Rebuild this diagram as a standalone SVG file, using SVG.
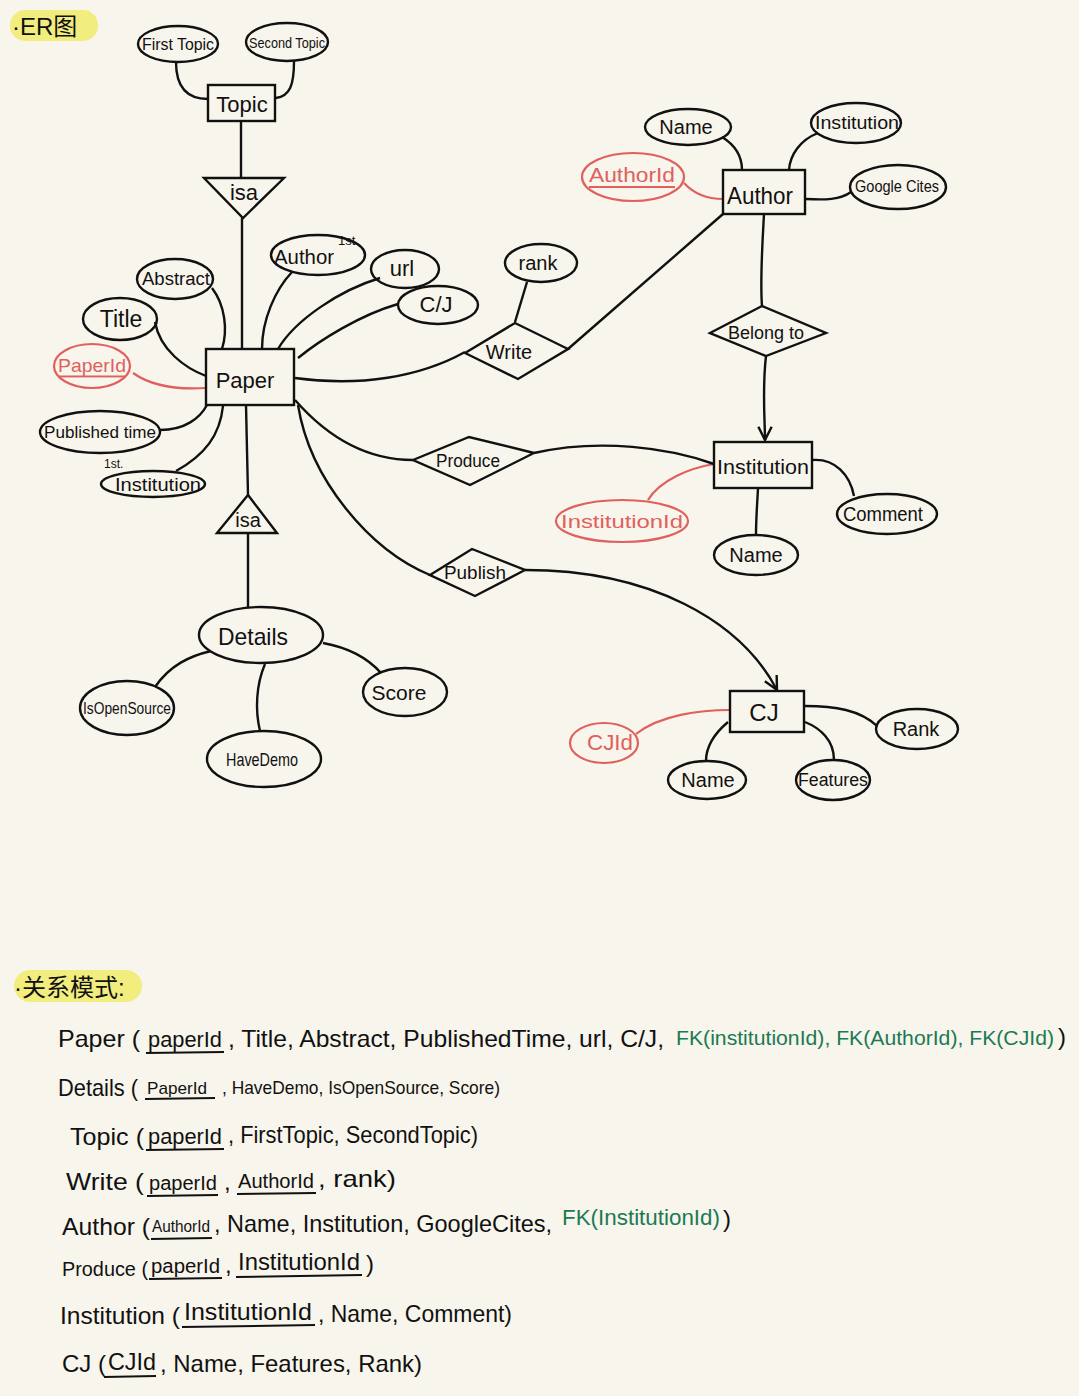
<svg xmlns="http://www.w3.org/2000/svg" width="1079" height="1396" viewBox="0 0 1079 1396">
<style>
text{font-family:"Liberation Sans","Noto Sans CJK SC",sans-serif;fill:#111;}
.lbl{text-anchor:middle;dominant-baseline:central;}
.shape{fill:none;stroke:#111;stroke-width:2.4;}
.key{fill:none;stroke:#e0605e;stroke-width:2.2;}
.keyt{fill:#e0605e;text-decoration:underline;}
.conn path{fill:none;stroke:#111;stroke-width:2.4;}
.conn path.red{stroke:#e0605e;stroke-width:2.2;}
.hl{fill:#f1ed7e;}
.g{fill:#1b7a55;}
.ul{stroke:#111;stroke-width:2;}
.row{font-size:24px;}
</style>
<defs>
<marker id="arr" viewBox="0 0 12 12" refX="11" refY="6" markerWidth="16" markerHeight="16" markerUnits="userSpaceOnUse" orient="auto">
<path d="M1,1 L11,6 L1,11" fill="none" stroke="#111" stroke-width="1.8"/>
</marker>
</defs>
<rect width="1079" height="1396" fill="#f8f5ec"/>

<!-- titles -->
<rect class="hl" x="10" y="10" width="88" height="31" rx="15"/>
<text x="12" y="35" font-size="24">·ER图</text>
<rect class="hl" x="14" y="970" width="128" height="32" rx="16"/>
<text x="14" y="996" font-size="24">·关系模式:</text>

<!-- connectors -->
<g id="connectors" class="conn">
<path d="M176,62 C176,90 190,99 208,99"/>
<path d="M294,61 C294,85 290,96 276,98"/>
<path d="M241,121 L241,178"/>
<path d="M242,218 L242,349"/>
<path d="M212,288 C225,305 228,330 222,349"/>
<path d="M155,322 C160,350 185,368 206,376"/>
<path class="red" d="M133,373 C150,385 175,390 206,388"/>
<path d="M160,430 C185,430 200,418 207,405"/>
<path d="M176,471 C205,455 220,435 223,406"/>
<path d="M292,272 C275,290 262,320 262,349"/>
<path d="M380,278 C340,290 295,320 278,349"/>
<path d="M398,304 C360,315 320,340 298,358"/>
<path d="M295,378 C360,387 420,377 465,352"/>
<path d="M527,282 L515,322"/>
<path d="M568,349 L723,214"/>
<path d="M722,137 C735,145 742,155 742,170"/>
<path d="M818,133 C800,140 790,155 789,170"/>
<path class="red" d="M684,183 C695,195 708,199 723,199"/>
<path d="M851,192 C840,200 825,200 806,199"/>
<path d="M764,214 C762,250 760,280 762,306"/>
<path d="M766,356 C762,390 765,420 765,440" marker-end="url(#arr)"/>
<path class="red" d="M648,500 C660,480 690,468 714,464"/>
<path d="M758,489 C757,505 756,520 756,535"/>
<path d="M812,460 C835,458 850,475 854,496"/>
<path d="M295,400 C330,440 370,460 413,460"/>
<path d="M534,453 C600,438 670,448 714,464"/>
<path d="M298,405 C310,480 370,550 430,575"/>
<path d="M525,570 C650,570 740,620 777,690" marker-end="url(#arr)"/>
<path class="red" d="M636,734 C660,715 700,710 730,710"/>
<path d="M706,761 C706,745 715,733 728,722"/>
<path d="M834,760 C834,740 820,728 805,722"/>
<path d="M877,726 C860,710 835,706 805,706"/>
<path d="M246,405 L248,495"/>
<path d="M248,533 L248,607"/>
<path d="M155,687 C170,665 190,656 211,651"/>
<path d="M260,731 C255,710 256,685 265,664"/>
<path d="M381,673 C365,655 345,647 323,643"/>
</g>

<!-- Topic -->
<g id="topic"><rect class="shape" x="208" y="85" width="67" height="36"/><text class="lbl" x="242" y="104" font-size="22">Topic</text></g>
<g id="first-topic"><ellipse class="shape" cx="178" cy="44" rx="40" ry="18"/><text class="lbl" x="178" y="44" font-size="16" textLength="72" lengthAdjust="spacingAndGlyphs">First Topic</text></g>
<g id="second-topic"><ellipse class="shape" cx="287" cy="42" rx="41" ry="19"/><text class="lbl" x="287" y="42" font-size="15" textLength="76" lengthAdjust="spacingAndGlyphs">Second Topic</text></g>
<g id="isa-topic"><polygon class="shape" points="204,178 284,178 243,218"/><text class="lbl" x="244" y="192" font-size="22">isa</text></g>

<!-- Paper -->
<g id="paper"><rect class="shape" x="206" y="349" width="88" height="56"/><text class="lbl" x="245" y="380" font-size="22">Paper</text></g>
<g id="abstract"><ellipse class="shape" cx="175" cy="279" rx="38" ry="20"/><text class="lbl" x="176" y="279" font-size="18" textLength="68" lengthAdjust="spacingAndGlyphs">Abstract</text></g>
<g id="title"><ellipse class="shape" cx="120" cy="319" rx="37" ry="21"/><text class="lbl" x="121" y="319" font-size="23">Title</text></g>
<g id="paper-id"><ellipse class="key" cx="92" cy="366" rx="38" ry="22"/><text class="lbl keyt" x="92" y="365" font-size="19" textLength="68" lengthAdjust="spacingAndGlyphs">PaperId</text></g>
<g id="published-time"><ellipse class="shape" cx="100" cy="432" rx="60" ry="21"/><text class="lbl" x="100" y="432" font-size="17" textLength="112" lengthAdjust="spacingAndGlyphs">Published time</text></g>
<g id="first-institution"><ellipse class="shape" cx="153" cy="484" rx="52" ry="13"/><text x="104" y="468" font-size="12">1st.</text><text class="lbl" x="158" y="485" font-size="18" textLength="86" lengthAdjust="spacingAndGlyphs">Institution</text></g>
<g id="first-author"><ellipse class="shape" cx="318" cy="255" rx="47" ry="20"/><text x="274" y="264" font-size="20" textLength="60" lengthAdjust="spacingAndGlyphs">Author</text><text x="338" y="245" font-size="13">1st.</text></g>
<g id="url"><ellipse class="shape" cx="405" cy="269" rx="34" ry="19"/><text class="lbl" x="402" y="268" font-size="22">url</text></g>
<g id="cj-attr"><ellipse class="shape" cx="438" cy="305" rx="40" ry="19"/><text class="lbl" x="436" y="304" font-size="22">C/J</text></g>

<!-- Write -->
<g id="write"><polygon class="shape" points="465,353 515,323 568,349 518,379"/><text class="lbl" x="509" y="352" font-size="20">Write</text></g>
<g id="rank"><ellipse class="shape" cx="541" cy="263" rx="36" ry="19"/><text class="lbl" x="538" y="263" font-size="20">rank</text></g>

<!-- Author -->
<g id="author"><rect class="shape" x="723" y="170" width="82" height="44"/><text class="lbl" x="760" y="195" font-size="24" textLength="66" lengthAdjust="spacingAndGlyphs">Author</text></g>
<g id="author-name"><ellipse class="shape" cx="688" cy="127" rx="43" ry="18"/><text class="lbl" x="686" y="127" font-size="20">Name</text></g>
<g id="author-institution"><ellipse class="shape" cx="856" cy="123" rx="45" ry="20"/><text class="lbl" x="857" y="123" font-size="18" textLength="84" lengthAdjust="spacingAndGlyphs">Institution</text></g>
<g id="author-id"><ellipse class="key" cx="633" cy="177" rx="51" ry="24"/><text class="lbl keyt" x="632" y="175" font-size="20" textLength="86" lengthAdjust="spacingAndGlyphs">AuthorId</text></g>
<g id="google-cites"><ellipse class="shape" cx="898" cy="187" rx="48" ry="22"/><text class="lbl" x="897" y="186" font-size="16" textLength="84" lengthAdjust="spacingAndGlyphs">Google Cites</text></g>

<!-- Belong to -->
<g id="belong-to"><polygon class="shape" points="710,333 762,306 826,333 766,356"/><text class="lbl" x="766" y="333" font-size="18" textLength="76" lengthAdjust="spacingAndGlyphs">Belong to</text></g>

<!-- Institution -->
<g id="institution"><rect class="shape" x="714" y="442" width="98" height="46"/><text class="lbl" x="763" y="466" font-size="21" textLength="92" lengthAdjust="spacingAndGlyphs">Institution</text></g>
<g id="institution-id"><ellipse class="key" cx="622" cy="521" rx="66" ry="21"/><text class="lbl" x="622" y="521" font-size="19" style="fill:#e0605e" textLength="122" lengthAdjust="spacingAndGlyphs">InstitutionId</text></g>
<g id="institution-name"><ellipse class="shape" cx="756" cy="555" rx="42" ry="20"/><text class="lbl" x="756" y="555" font-size="20">Name</text></g>
<g id="comment"><ellipse class="shape" cx="887" cy="514" rx="50" ry="20"/><text class="lbl" x="883" y="514" font-size="20" textLength="80" lengthAdjust="spacingAndGlyphs">Comment</text></g>

<!-- Produce -->
<g id="produce"><polygon class="shape" points="413,460 469,437 534,453 470,485"/><text class="lbl" x="468" y="461" font-size="18" textLength="64" lengthAdjust="spacingAndGlyphs">Produce</text></g>

<!-- Publish -->
<g id="publish"><polygon class="shape" points="430,575 472,549 525,570 475,596"/><text class="lbl" x="475" y="573" font-size="18" textLength="62" lengthAdjust="spacingAndGlyphs">Publish</text></g>

<!-- CJ -->
<g id="cj"><rect class="shape" x="730" y="691" width="74" height="41"/><text class="lbl" x="764" y="712" font-size="24">CJ</text></g>
<g id="cj-id"><ellipse class="key" cx="604" cy="743" rx="34" ry="20"/><text class="lbl" x="610" y="742" font-size="22" style="fill:#e0605e" textLength="46" lengthAdjust="spacingAndGlyphs">CJId</text></g>
<g id="cj-name"><ellipse class="shape" cx="707" cy="780" rx="39" ry="19"/><text class="lbl" x="708" y="780" font-size="20">Name</text></g>
<g id="features"><ellipse class="shape" cx="833" cy="780" rx="37" ry="20"/><text class="lbl" x="833" y="780" font-size="18" textLength="70" lengthAdjust="spacingAndGlyphs">Features</text></g>
<g id="cj-rank"><ellipse class="shape" cx="917" cy="729" rx="41" ry="20"/><text class="lbl" x="916" y="729" font-size="20">Rank</text></g>

<!-- isa Details -->
<g id="isa-details"><polygon class="shape" points="217,533 277,533 248,495"/><text class="lbl" x="248" y="520" font-size="20">isa</text></g>
<g id="details"><ellipse class="shape" cx="261" cy="635" rx="62" ry="28"/><text class="lbl" x="253" y="636" font-size="24" textLength="70" lengthAdjust="spacingAndGlyphs">Details</text></g>
<g id="is-open-source"><ellipse class="shape" cx="127" cy="708" rx="47" ry="27"/><text class="lbl" x="127" y="708" font-size="16" textLength="88" lengthAdjust="spacingAndGlyphs">IsOpenSource</text></g>
<g id="have-demo"><ellipse class="shape" cx="264" cy="759" rx="57" ry="28"/><text class="lbl" x="262" y="759" font-size="19" textLength="72" lengthAdjust="spacingAndGlyphs">HaveDemo</text></g>
<g id="score"><ellipse class="shape" cx="405" cy="692" rx="42" ry="24"/><text class="lbl" x="399" y="692" font-size="21">Score</text></g>

<!-- relational schema -->
<g id="schema" class="row">
<text x="58" y="1047" textLength="82" lengthAdjust="spacingAndGlyphs">Paper (</text>
<text x="148" y="1047" font-size="22" textLength="74" lengthAdjust="spacingAndGlyphs">paperId</text>
<line class="ul" x1="146" y1="1053" x2="224" y2="1052"/>
<text x="228" y="1047" textLength="436" lengthAdjust="spacingAndGlyphs">, Title, Abstract, PublishedTime, url, C/J,</text>
<text class="g" x="676" y="1045" font-size="21" textLength="378" lengthAdjust="spacingAndGlyphs">FK(institutionId), FK(AuthorId), FK(CJId)</text>
<text x="1058" y="1045" textLength="8" lengthAdjust="spacingAndGlyphs">)</text>

<text x="58" y="1096" textLength="80" lengthAdjust="spacingAndGlyphs">Details (</text>
<text x="147" y="1094" font-size="17" textLength="60" lengthAdjust="spacingAndGlyphs">PaperId</text>
<line class="ul" x1="145" y1="1099" x2="215" y2="1098"/>
<text x="222" y="1094" font-size="19" textLength="278" lengthAdjust="spacingAndGlyphs">, HaveDemo, IsOpenSource, Score)</text>

<text x="70" y="1145" textLength="74" lengthAdjust="spacingAndGlyphs">Topic (</text>
<text x="148" y="1144" font-size="22" textLength="74" lengthAdjust="spacingAndGlyphs">paperId</text>
<line class="ul" x1="146" y1="1150" x2="224" y2="1149"/>
<text x="228" y="1143" textLength="250" lengthAdjust="spacingAndGlyphs">, FirstTopic, SecondTopic)</text>

<text x="66" y="1190" textLength="78" lengthAdjust="spacingAndGlyphs">Write (</text>
<text x="149" y="1190" font-size="20" textLength="68" lengthAdjust="spacingAndGlyphs">paperId</text>
<line class="ul" x1="147" y1="1196" x2="218" y2="1195"/>
<text x="224" y="1190">,</text>
<text x="238" y="1188" font-size="20" textLength="76" lengthAdjust="spacingAndGlyphs">AuthorId</text>
<line class="ul" x1="237" y1="1194" x2="316" y2="1193"/>
<text x="318" y="1187" textLength="78" lengthAdjust="spacingAndGlyphs">, rank)</text>

<text x="62" y="1235" textLength="88" lengthAdjust="spacingAndGlyphs">Author (</text>
<text x="152" y="1232" font-size="16" textLength="58" lengthAdjust="spacingAndGlyphs">AuthorId</text>
<line class="ul" x1="151" y1="1239" x2="212" y2="1238"/>
<text x="214" y="1232" textLength="338" lengthAdjust="spacingAndGlyphs">, Name, Institution, GoogleCites,</text>
<text class="g" x="562" y="1225" font-size="22" textLength="158" lengthAdjust="spacingAndGlyphs">FK(InstitutionId)</text>
<text x="723" y="1227">)</text>

<text x="62" y="1276" font-size="20" textLength="86" lengthAdjust="spacingAndGlyphs">Produce (</text>
<text x="151" y="1273" font-size="20" textLength="69" lengthAdjust="spacingAndGlyphs">paperId</text>
<line class="ul" x1="149" y1="1279" x2="222" y2="1278"/>
<text x="225" y="1273">,</text>
<text x="238" y="1270" textLength="122" lengthAdjust="spacingAndGlyphs">InstitutionId</text>
<line class="ul" x1="236" y1="1277" x2="362" y2="1275"/>
<text x="366" y="1272">)</text>

<text x="60" y="1324" textLength="120" lengthAdjust="spacingAndGlyphs">Institution (</text>
<text x="184" y="1320" textLength="128" lengthAdjust="spacingAndGlyphs">InstitutionId</text>
<line class="ul" x1="182" y1="1327" x2="315" y2="1325"/>
<text x="318" y="1322" textLength="194" lengthAdjust="spacingAndGlyphs">, Name,  Comment)</text>

<text x="62" y="1372" textLength="44" lengthAdjust="spacingAndGlyphs">CJ (</text>
<text x="108" y="1370" textLength="48" lengthAdjust="spacingAndGlyphs">CJId</text>
<line class="ul" x1="104" y1="1377" x2="156" y2="1376"/>
<text x="160" y="1372" textLength="262" lengthAdjust="spacingAndGlyphs">, Name, Features, Rank)</text>
</g>
</svg>
